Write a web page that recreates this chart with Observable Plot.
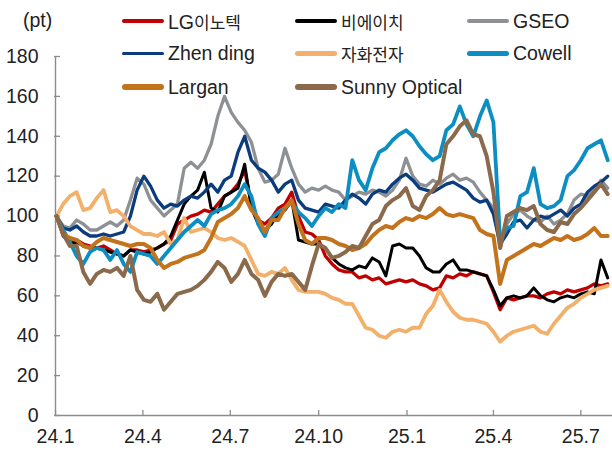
<!DOCTYPE html>
<html><head><meta charset="utf-8">
<script src="https://cdn.jsdelivr.net/npm/d3@7"></script>
<script src="https://cdn.jsdelivr.net/npm/@observablehq/plot@0.6"></script>
<style>
body{margin:0;background:#fff;}
#wrap{position:relative;width:612px;height:450px;font-family:"Liberation Sans",Arial,"Noto Sans CJK KR",sans-serif;color:#222;}
#unit{position:absolute;left:23px;top:8px;font-size:19.5px;line-height:24px;}
.item{position:absolute;height:24px;display:flex;align-items:center;font-size:19.5px;white-space:nowrap;}
.sw{width:42px;border-radius:3px;margin-right:4px;flex:none;}
.ko{font-family:"Noto Sans CJK KR",sans-serif;font-size:17px;}
</style></head>
<body><div id="wrap"></div>
<script>
// ---- data (weekly readings, index 0 = 2024-01-02) ----
const seriesNames = ["LG이노텍", "비에이치", "GSEO", "Zhen ding", "자화전자", "Cowell", "Largan", "Sunny Optical"];

const lgInnotek = [100,90,87,88,86,85,84,85,83,81, 80,83,83,82,83,84,86,88,96,98,
 100,101,103,102,106,110,112,116,123,106, 98,96,99,104,106,112,100,92,91,88,
 80,76,73,72,72,69,70,68,69,66, 67,68,67,68,66,65,63,64,70,69,
 71,70,72,71,70,62,53,59,58,59, 60,60,59,61,62,61,63,62,63,64, 66,65,66];
const bh = [100,92,86,87,85,84,84,83,82,81, 80,83,82,81,82,84,86,90,98,106,
 110,113,122,104,102,110,112,114,126,104, 96,93,96,101,103,108,88,87,86,86,
 84,79,76,74,73,75,74,79,77,70, 85,86,84,84,80,74,72,72,76,78,
 73,73,72,71,70,63,55,59,60,59, 60,64,60,58,57,59,60,59,61,62, 61,78,69];
const gseo = [100,95,94,98,96,93,93,95,97,95, 98,108,119,116,108,104,100,103,106,124,
 127,124,128,136,150,160,152,147,143,137, 124,117,118,121,134,124,116,112,114,113,
 115,113,112,108,110,112,111,113,112,110, 113,118,129,120,116,115,118,116,119,121,
 118,119,117,112,108,104,84,96,101,103, 100,98,97,100,96,98,101,108,111,110, 113,118,114];
const zhenDing = [100,94,93,95,92,90,90,91,90,91, 92,100,113,120,115,108,104,106,105,108,
 110,109,112,116,112,118,120,132,140,128, 124,122,118,112,116,118,108,104,103,102,
 106,105,104,108,111,109,106,111,113,112, 116,119,121,118,114,113,112,114,116,117,
 115,113,109,107,108,101,86,91,97,98, 94,98,100,99,101,103,100,104,106,112, 115,117,120];
const jahwa = [100,106,110,112,103,104,109,113,102,103, 100,95,93,91,91,90,92,86,88,99,
 92,93,94,92,89,88,89,87,85,78, 71,70,72,71,74,68,63,62,62,62,
 61,59,58,56,56,50,44,43,40,39, 42,43,42,44,44,51,55,63,57,52,
 49,48,48,47,46,42,37,40,42,43, 44,45,42,41,46,50,54,56,59,61, 63,64,65];
const cowell = [100,93,87,80,76,82,84,83,78,83, 76,72,82,81,80,76,80,84,88,92,
 95,98,95,101,103,104,106,110,116,110, 96,90,99,102,104,107,102,99,95,100,
 104,102,106,104,128,118,113,124,132,134, 138,141,143,140,135,131,128,130,143,146,
 155,146,140,150,158,147,88,94,95,110, 112,124,106,104,105,108,120,123,128,134, 136,138,128];
const largan = [100,91,89,88,85,84,87,89,88,87, 86,85,86,86,84,78,74,76,77,79,
 80,81,83,89,97,99,101,104,110,103, 99,92,98,98,104,108,96,88,86,89,
 89,88,86,85,83,84,86,90,93,95, 94,97,99,98,100,99,101,104,101,100,
 101,100,99,93,91,90,66,78,80,82, 84,86,85,87,89,88,90,88,89,91, 94,90,90];
const sunny = [100,91,85,85,72,66,71,73,72,74, 70,80,63,58,57,61,53,57,61,62,
 63,65,68,72,77,74,67,71,78,71, 68,60,67,71,70,71,67,63,75,86,
 84,79,80,82,85,84,90,96,98,105, 108,110,114,105,103,110,113,118,136,140,
 145,148,141,140,130,112,84,100,102,104, 103,105,96,93,92,97,96,101,104,108, 112,116,111];

const seriesValues = [lgInnotek, bh, gseo, zhenDing, jahwa, cowell, largan, sunny];

const yTicks = [0, 20, 40, 60, 80, 100, 120, 140, 160, 180];
const xTickDates = ["2024-01-01","2024-04-01","2024-07-01","2024-10-01","2025-01-01","2025-04-01","2025-07-01"].map(s => new Date(s + "T00:00:00Z"));
const xTickLabels = ["24.1","24.4","24.7","24.10","25.1","25.4","25.7"];
const unitLabel = "(pt)";

// ---- styles ----
const seriesColors = ["#C00000", "#000000", "#8E9194", "#0B3C7D", "#F2B06A", "#0D8EC3", "#C3731C", "#8B6A4C"];
const lineWidths = [3.3, 3, 3.3, 3.3, 3.8, 3.8, 4, 4];
const swatchWidths = [3.5, 3.5, 4.5, 3.5, 5, 5.5, 5.5, 5.5];

// ---- build ----
const weeks = d3.utcTuesday.range(new Date(Date.UTC(2024,0,2)), new Date(Date.UTC(2025,6,30)));
const table = seriesNames.flatMap((name, s) => seriesValues[s].map((v, i) => ({date: weeks[i], value: v, name})));
const xStart = new Date(Date.UTC(2024,0,1));
const xEnd = new Date(Date.UTC(2025,7,3));
const axisColor = "#8c8c8c";

const chart = Plot.plot({
  width: 612, height: 450,
  marginLeft: 55, marginRight: 0, marginTop: 56, marginBottom: 35,
  x: {type: "utc", domain: [xStart, xEnd]},
  y: {domain: [0, 180]},
  style: {fontFamily: '"Liberation Sans", Arial, sans-serif', fontSize: "19.5px", color: "#222", background: "white", overflow: "visible"},
  marks: [
    Plot.ruleX([xStart], {stroke: axisColor, strokeWidth: 1.4}),
    Plot.ruleY([0], {stroke: axisColor, strokeWidth: 1.4}),
    Plot.axisY({ticks: yTicks, tickSize: 6, dx: 5, text: null, stroke: axisColor, strokeWidth: 1.3, label: null}),
    Plot.axisY({ticks: yTicks, tickSize: 0, tickPadding: 17, fill: "#222", label: null}),
    Plot.axisX({ticks: xTickDates, tickSize: 5, dy: -5, text: null, stroke: axisColor, strokeWidth: 1.3, label: null}),
    Plot.axisX({ticks: xTickDates, tickSize: 0, tickPadding: 14, fill: "#222", label: null,
      tickFormat: d => xTickLabels[xTickDates.findIndex(t => +t === +d)]}),
    ...seriesNames.map((name, s) => Plot.line(table.filter(d => d.name === name), {
      x: "date", y: "value", stroke: seriesColors[s], strokeWidth: lineWidths[s],
      strokeLinejoin: "round", strokeLinecap: "round"
    }))
  ]
});

const wrap = document.getElementById("wrap");
wrap.appendChild(chart);

const unit = document.createElement("div");
unit.id = "unit";
unit.textContent = unitLabel;
wrap.appendChild(unit);

const colLeft = [122, 295, 467];
const rowTop = [9, 41.5, 75];
seriesNames.forEach((name, k) => {
  const item = document.createElement("div");
  item.className = "item";
  item.style.left = colLeft[k % 3] + "px";
  item.style.top = rowTop[Math.floor(k / 3)] + "px";
  const sw = document.createElement("div");
  sw.className = "sw";
  sw.style.background = seriesColors[k];
  sw.style.height = swatchWidths[k] + "px";
  item.appendChild(sw);
  const lab = document.createElement("span");
  name.split(/([가-힣]+)/).filter(t => t).forEach(run => {
    const sp = document.createElement("span");
    if (/[가-힣]/.test(run)) sp.className = "ko";
    sp.textContent = run;
    lab.appendChild(sp);
  });
  item.appendChild(lab);
  wrap.appendChild(item);
});
</script></body></html>
